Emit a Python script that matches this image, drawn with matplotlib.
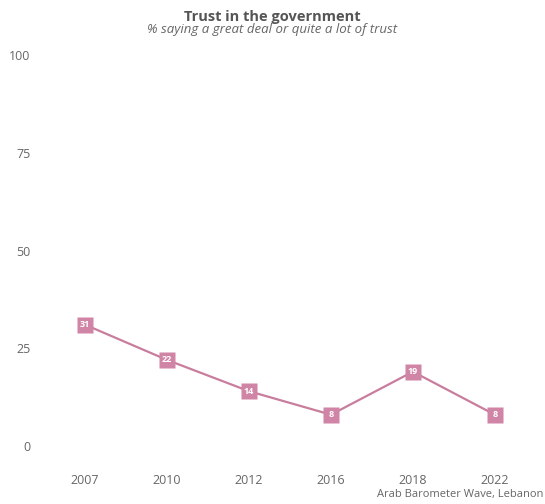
import matplotlib.pyplot as plt

years = ['2007', '2010', '2012', '2016', '2018', '2022']
trust = [31, 22, 14, 8, 19, 8]

line_col = '#C97D9D'
box_col = '#D085A6'

plt.rcParams['font.family'] = ['Open Sans', 'DejaVu Sans']

fig = plt.figure(figsize=(5.45, 5.04), dpi=100)
ax = fig.add_axes([36 / 545, 38.5 / 504, 508 / 545, 430 / 504])

x = list(range(len(years)))
ax.plot(x, trust, color=line_col, linewidth=1.6, zorder=2)
ax.plot(x, trust, linestyle='none', marker='s', markersize=11.5,
        markerfacecolor=box_col, markeredgecolor='none', zorder=3)
for xi, v in zip(x, trust):
    ax.text(xi, v, str(v), ha='center', va='center', color='white',
            fontsize=6.5, fontweight='bold', zorder=4)

ax.set_xlim(-0.6, 5.6)
ax.set_ylim(-5, 105)
ax.set_xticks(x)
ax.set_xticklabels(years)
ax.set_yticks([0, 25, 50, 75, 100])
ax.tick_params(length=0, labelsize=9, labelcolor='#666666', pad=6)
ax.tick_params(axis='y', pad=4)
for s in ax.spines.values():
    s.set_visible(False)

fig.text(0.5, 1 - 21 / 504, 'Trust in the government', ha='center', va='baseline',
         fontsize=10.5, fontweight='bold', color='#555555')
fig.text(0.5, 1 - 33 / 504, '% saying a great deal or quite a lot of trust',
         ha='center', va='baseline', fontsize=9.5, style='italic', color='#666666')
fig.text(1 - 2 / 545, 1 - 495 / 504, 'Arab Barometer Wave, Lebanon', ha='right',
         va='center', fontsize=8, color='#666666')

fig.savefig('out.png', dpi=100)
